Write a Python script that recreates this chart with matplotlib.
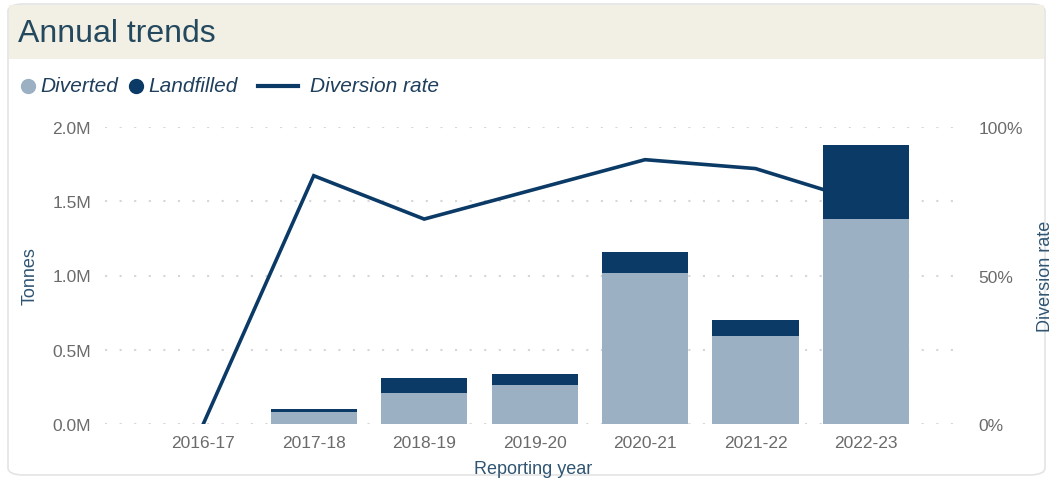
import matplotlib.pyplot as plt
import numpy as np
from matplotlib.patches import FancyBboxPatch, Rectangle
from matplotlib.lines import Line2D
from matplotlib.ticker import FuncFormatter

plt.rcParams['font.family'] = ['Liberation Sans', 'DejaVu Sans']

# data
years = ['2016-17', '2017-18', '2018-19', '2019-20', '2020-21', '2021-22', '2022-23']
diverted = [0.0, 0.083, 0.207, 0.265, 1.02, 0.595, 1.38]       # million tonnes
landfilled = [0.0, 0.017, 0.103, 0.072, 0.136, 0.105, 0.50]    # million tonnes
diversion_rate = [0.0, 0.836, 0.69, 0.79, 0.89, 0.86, 0.745]
tonne_ticks = [0, 0.5, 1.0, 1.5, 2.0]

c_div = '#9bb0c3'
c_land = '#0b3a66'
c_tick = '#6b6b6b'
c_label = '#2f5573'

fig = plt.figure(figsize=(10.52, 4.81), dpi=100)
W, H = 1052, 481

# card + header band
card = FancyBboxPatch((8 / W, 5 / H), 1037 / W, 471 / H, boxstyle='round,pad=0,rounding_size=0.015',
                      transform=fig.transFigure, facecolor='white', edgecolor='#e4e4e4', lw=1.2, zorder=-2)
fig.patches.append(card)
head = Rectangle((9 / W, 1 - 60 / H), 1035 / W, 54 / H, transform=fig.transFigure,
                 facecolor='#f2efe4', edgecolor='none', zorder=-1)
fig.patches.append(head)
fig.text(18 / W, 1 - 34 / H, 'Annual trends', fontsize=23, color='#24495f', va='center', ha='left')

# legend row
ly = 1 - 87 / H
fig.add_artist(Line2D([28 / W], [ly], marker='o', ms=10, color=c_div, transform=fig.transFigure))
fig.text(40 / W, ly, 'Diverted', fontsize=15, style='italic', color='#1f3f5c', va='center')
fig.add_artist(Line2D([136 / W], [ly], marker='o', ms=10, color=c_land, transform=fig.transFigure))
fig.text(148 / W, ly, 'Landfilled', fontsize=15, style='italic', color='#1f3f5c', va='center')
fig.add_artist(Line2D([258 / W, 298 / W], [ly, ly], lw=3, color=c_land, transform=fig.transFigure))
fig.text(310 / W, ly, 'Diversion rate', fontsize=15, style='italic', color='#1f3f5c', va='center')

ax = fig.add_axes([105 / W, 1 - 425 / H, 857 / W, 297 / H])
ax2 = ax.twinx()
ax.set_zorder(2)
ax2.set_zorder(1)
ax.patch.set_visible(False)
ax2.patch.set_visible(False)

x = np.arange(len(years))
# grid drawn in the lower axes so it sits under the line and bars
ax2.hlines(tonne_ticks, 0, 1, transform=ax.get_yaxis_transform(), color='#d6d6d6',
           linestyle=(0, (1, 6)), lw=1.5, zorder=1)
ax.bar(x, diverted, width=0.78, color=c_div, zorder=3)
ax.bar(x, landfilled, width=0.78, bottom=diverted, color=c_land, zorder=3)
ax2.plot(x, diversion_rate, color=c_land, lw=2.6, solid_joinstyle='miter', zorder=3)

ax.set_xlim(-0.89, 6.87)
ax.set_ylim(0, 2.0)
ax2.set_ylim(0, 1.0)
ax.set_yticks(tonne_ticks)
ax.yaxis.set_major_formatter(FuncFormatter(lambda v, p: f'{v:.1f}M'))
ax2.set_yticks([0, 0.5, 1.0])
ax2.yaxis.set_major_formatter(FuncFormatter(lambda v, p: f'{v * 100:.0f}%'))
ax.set_xticks(x)
ax.set_xticklabels(years)

for a in (ax, ax2):
    for s in a.spines.values():
        s.set_visible(False)
    a.tick_params(length=0, labelsize=12.5, labelcolor=c_tick)
ax.tick_params(axis='y', pad=10)
ax2.tick_params(axis='y', pad=12)
ax.tick_params(axis='x', pad=8)

ax.set_ylabel('Tonnes', fontsize=13, color=c_label, labelpad=10)
ax2.set_ylabel('Diversion rate', fontsize=13, color=c_label, labelpad=10)
ax.set_xlabel('Reporting year', fontsize=13, color=c_label, labelpad=7)

fig.savefig('out.png', dpi=100)
